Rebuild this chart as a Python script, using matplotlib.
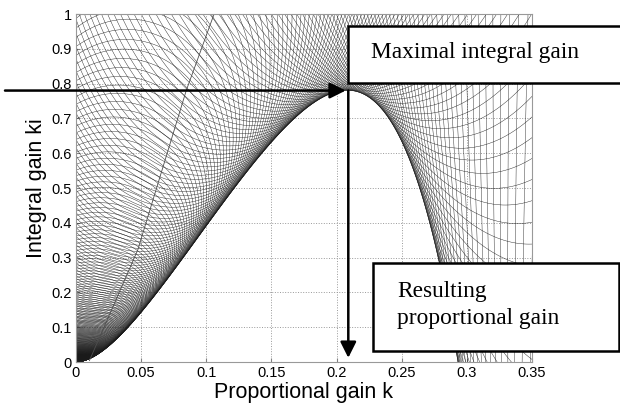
import numpy as np
import matplotlib
matplotlib.use("Agg")
import matplotlib.pyplot as plt
from matplotlib.collections import LineCollection
from matplotlib.patches import Rectangle

# Processo integrador com atraso: G(s) = K e^{-sL} / s
ganho_planta = 33.25
atraso_planta = 0.0629
ms_max = 1.8                      # sensibilidade máxima (restrição de robustez)

# ponto ótimo (ganho integral máximo)
k_otimo = 0.209
ki_otimo = 0.78

# linha fina diagonal
diag_k = [0.0103, 0.0474, 0.0846, 0.106]
diag_ki = [0.004, 0.322, 0.78, 1.0]

xticks = [0, 0.05, 0.1, 0.15, 0.2, 0.25, 0.3, 0.35]
xtick_labels = ['0', '0.05', '0.1', '0.15', '0.2', '0.25', '0.3', '0.35']
yticks = [0, 0.1, 0.2, 0.3, 0.4, 0.5, 0.6, 0.7, 0.8, 0.9, 1]
ytick_labels = ['0', '0.1', '0.2', '0.3', '0.4', '0.5', '0.6', '0.7', '0.8', '0.9', '1']

# ==========================================
# Curvas: k + ki/(jw) = (-1 + e^{j phi}/Ms) / G(jw), uma elipse por frequência
w = np.logspace(np.log10(0.015), np.log10(2.2), 320) / atraso_planta
phi = np.linspace(0, 2 * np.pi, 721)
W, P = np.meshgrid(w, phi)
G = ganho_planta * np.exp(-1j * W * atraso_planta) / (1j * W)
Z = (-1 + np.exp(1j * P) / ms_max) / G
k = Z.real
ki = -W * Z.imag

fig = plt.figure(figsize=(6.2, 4.03), dpi=100)
ax = fig.add_axes([76 / 620, 1 - 362 / 403, 456 / 620, 348 / 403])

seg = [np.column_stack([k[:, j], ki[:, j]]) for j in range(k.shape[1])]
ax.add_collection(LineCollection(seg, colors='0.1', linewidths=0.3))
ax.plot(diag_k, diag_ki, color='0.3', linewidth=0.6)

ax.set_xlim(0, 0.35)
ax.set_ylim(0, 1)
ax.set_xticks(xticks)
ax.set_xticklabels(xtick_labels)
ax.set_yticks(yticks)
ax.set_yticklabels(ytick_labels)
ax.tick_params(direction='in', length=3, labelsize=10.5, pad=3, color='0.5')
for lab in ax.get_xticklabels() + ax.get_yticklabels():
    lab.set_family('Liberation Sans')
ax.grid(True, linestyle=':', color='0.6', linewidth=0.7)
ax.set_axisbelow(True)
for sp in ax.spines.values():
    sp.set_color('0.6')
ax.set_xlabel('Proportional gain k', fontsize=15.5, family='Liberation Sans', labelpad=1)
ax.set_ylabel('Integral gain ki', fontsize=15.5, family='Liberation Sans', labelpad=3)

# setas
ax.annotate('', xy=(k_otimo - 0.002, ki_otimo), xytext=(5 / 620, ki_otimo),
            textcoords=('figure fraction', 'data'), annotation_clip=False,
            arrowprops=dict(arrowstyle='-|>', color='black', lw=1.8,
                            mutation_scale=24, shrinkA=0, shrinkB=0))
ax.annotate('', xy=(k_otimo, 0.012), xytext=(k_otimo, ki_otimo),
            annotation_clip=False,
            arrowprops=dict(arrowstyle='-|>', color='black', lw=1.8,
                            mutation_scale=24, shrinkA=0, shrinkB=0))

# caixas de texto
fig.patches.append(Rectangle((348 / 620, 1 - 83 / 403), 0.5, 57 / 403,
                             transform=fig.transFigure, facecolor='white',
                             edgecolor='black', linewidth=1.8, zorder=5))
fig.text(371 / 620, 1 - 58 / 403, 'Maximal integral gain', fontsize=16.8,
         family='Liberation Serif', va='baseline', zorder=6)
fig.patches.append(Rectangle((373 / 620, 1 - 351 / 403), 246 / 620, 88 / 403,
                             transform=fig.transFigure, facecolor='white',
                             edgecolor='black', linewidth=1.8, zorder=5))
fig.text(397 / 620, 1 - 297 / 403, 'Resulting', fontsize=16.8,
         family='Liberation Serif', va='baseline', zorder=6)
fig.text(397 / 620, 1 - 324 / 403, 'proportional gain', fontsize=16.8,
         family='Liberation Serif', va='baseline', zorder=6)

fig.savefig('out.png', dpi=100)
